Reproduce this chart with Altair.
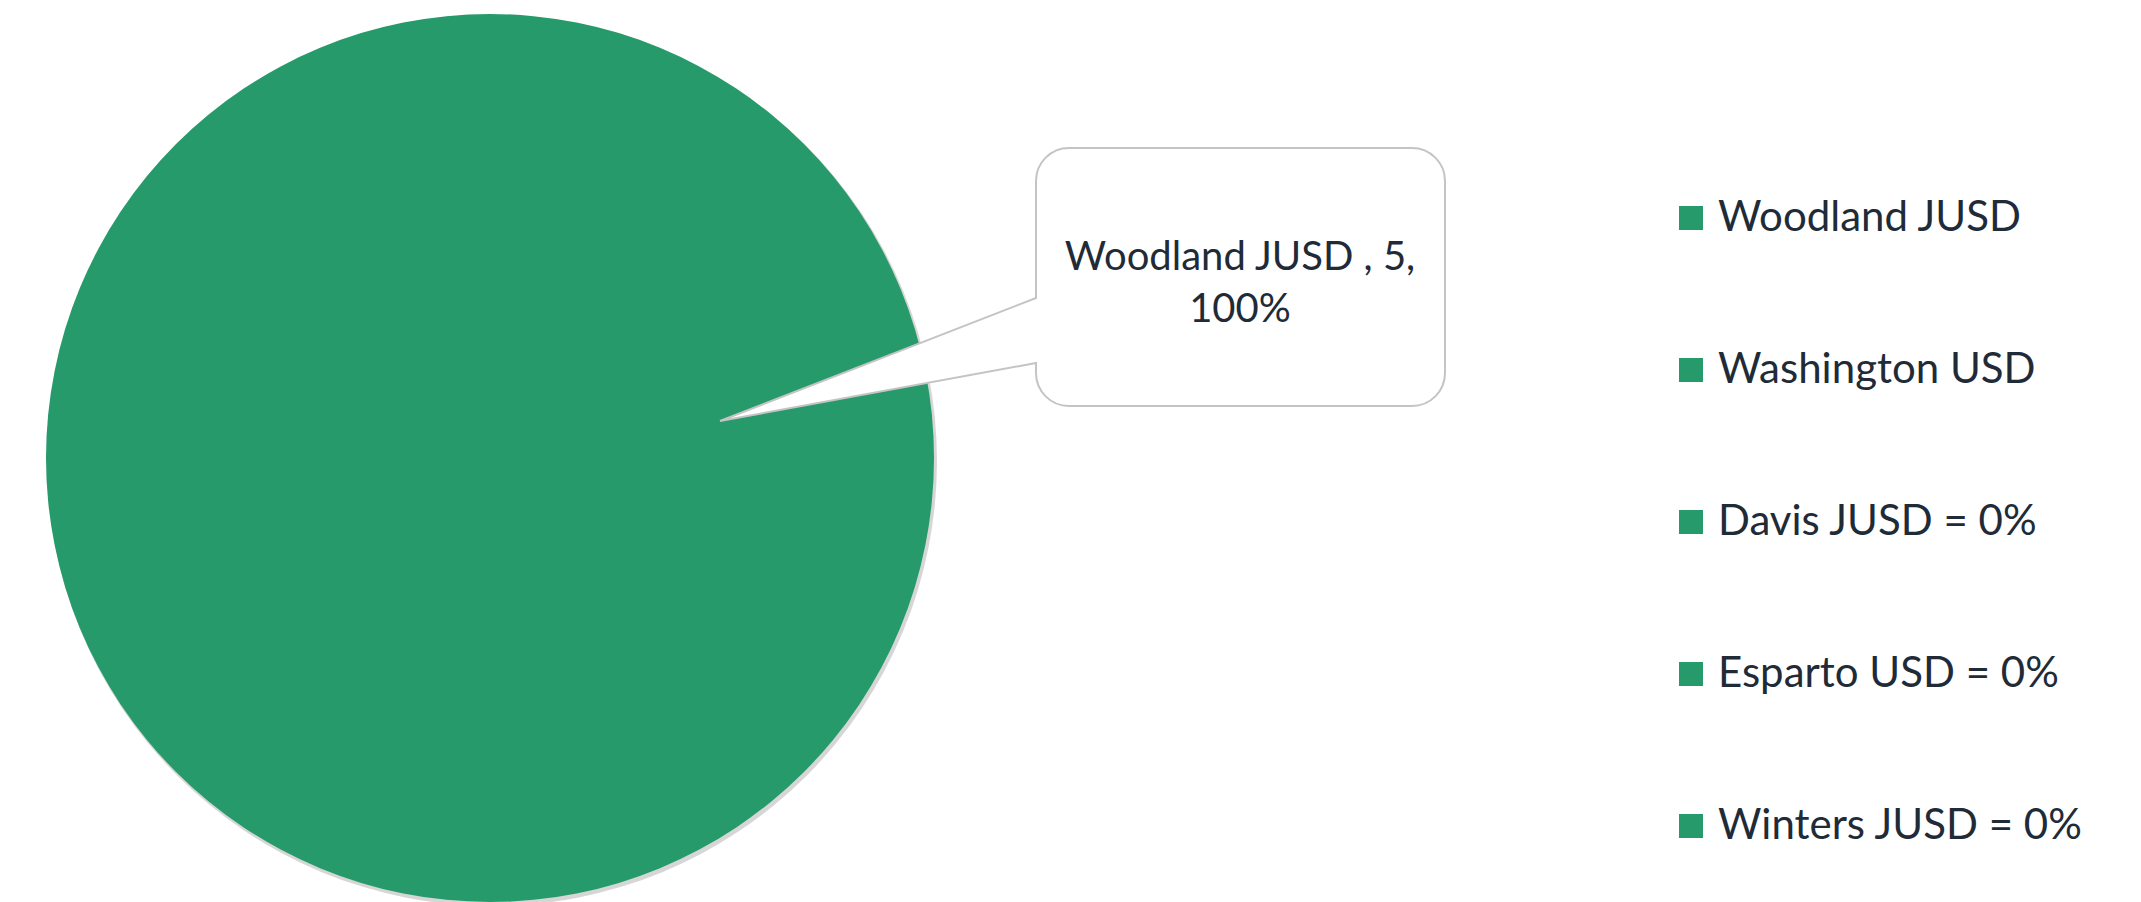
import altair as alt
import pandas as pd

# ---- data ----
districts = ["Woodland JUSD", "Washington USD", "Davis JUSD = 0%",
             "Esparto USD = 0%", "Winters JUSD = 0%"]
counts = [5, 0, 0, 0, 0]
slice_colors = ["#269A6B", "#269A6B", "#269A6B", "#269A6B", "#269A6B"]

total = sum(counts)
df = pd.DataFrame({"district": districts, "count": counts, "order": list(range(len(districts)))})

label_rows = []
for name, c in zip(districts, counts):
    if c > 0:
        pct = round(100 * c / total)
        label_rows.append({"label": f"{name} , {c},\n{pct}%"})
labels = pd.DataFrame(label_rows)

TEXT = "#212B38"
CX, CY, R = 490, 458, 444

base = alt.Chart(df)

shadow = base.mark_arc(radius=R + 1, color="#000000", opacity=0.16, stroke=None).encode(
    theta=alt.Theta("count:Q", stack=True),
    order=alt.Order("order:Q"),
    x=alt.value(CX + 2), y=alt.value(CY + 3),
)

pie = base.mark_arc(radius=R).encode(
    theta=alt.Theta("count:Q", stack=True),
    order=alt.Order("order:Q"),
    color=alt.Color(
        "district:N",
        scale=alt.Scale(domain=districts, range=slice_colors),
        sort=districts,
        legend=alt.Legend(
            title=None, orient="none", legendX=1670, legendY=197,
            symbolType="square", symbolSize=576, symbolStrokeWidth=0,
            labelFontSize=42, labelFont="Lato", labelColor=TEXT,
            rowPadding=110, labelOffset=6, padding=0, labelLimit=0,
        ),
    ),
    x=alt.value(CX), y=alt.value(CY),
)

# callout bubble (rounded box + pointer) drawn as one path, relative to box centre
bubble_path = (
    "M -171.5 -129 L 171.5 -129 A 33 33 0 0 1 204.5 -96 L 204.5 96 "
    "A 33 33 0 0 1 171.5 129 L -171.5 129 A 33 33 0 0 1 -204.5 96 "
    "L -204.5 86 L -520.5 144 L -204.5 21 L -204.5 -96 "
    "A 33 33 0 0 1 -171.5 -129 Z"
)
bubble = alt.Chart(labels).mark_point(
    shape=bubble_path, size=4, filled=True, fill="white", fillOpacity=1,
    stroke="#C4C4C4", strokeWidth=2, opacity=1,
).encode(x=alt.value(1240.5), y=alt.value(277))

callout_text = alt.Chart(labels).mark_text(
    font="Lato", fontSize=40, color=TEXT, align="center", baseline="middle",
    lineBreak="\n", lineHeight=52,
).encode(text="label:N", x=alt.value(1240), y=alt.value(258))

chart = alt.layer(shadow, pie, bubble, callout_text).properties(
    width=2141, height=902, padding=0,
    autosize=alt.AutoSizeParams(type="none"),
    background="white",
).configure_view(stroke=None)

chart.save("out.html", embed_options={"renderer": "svg", "actions": False})
